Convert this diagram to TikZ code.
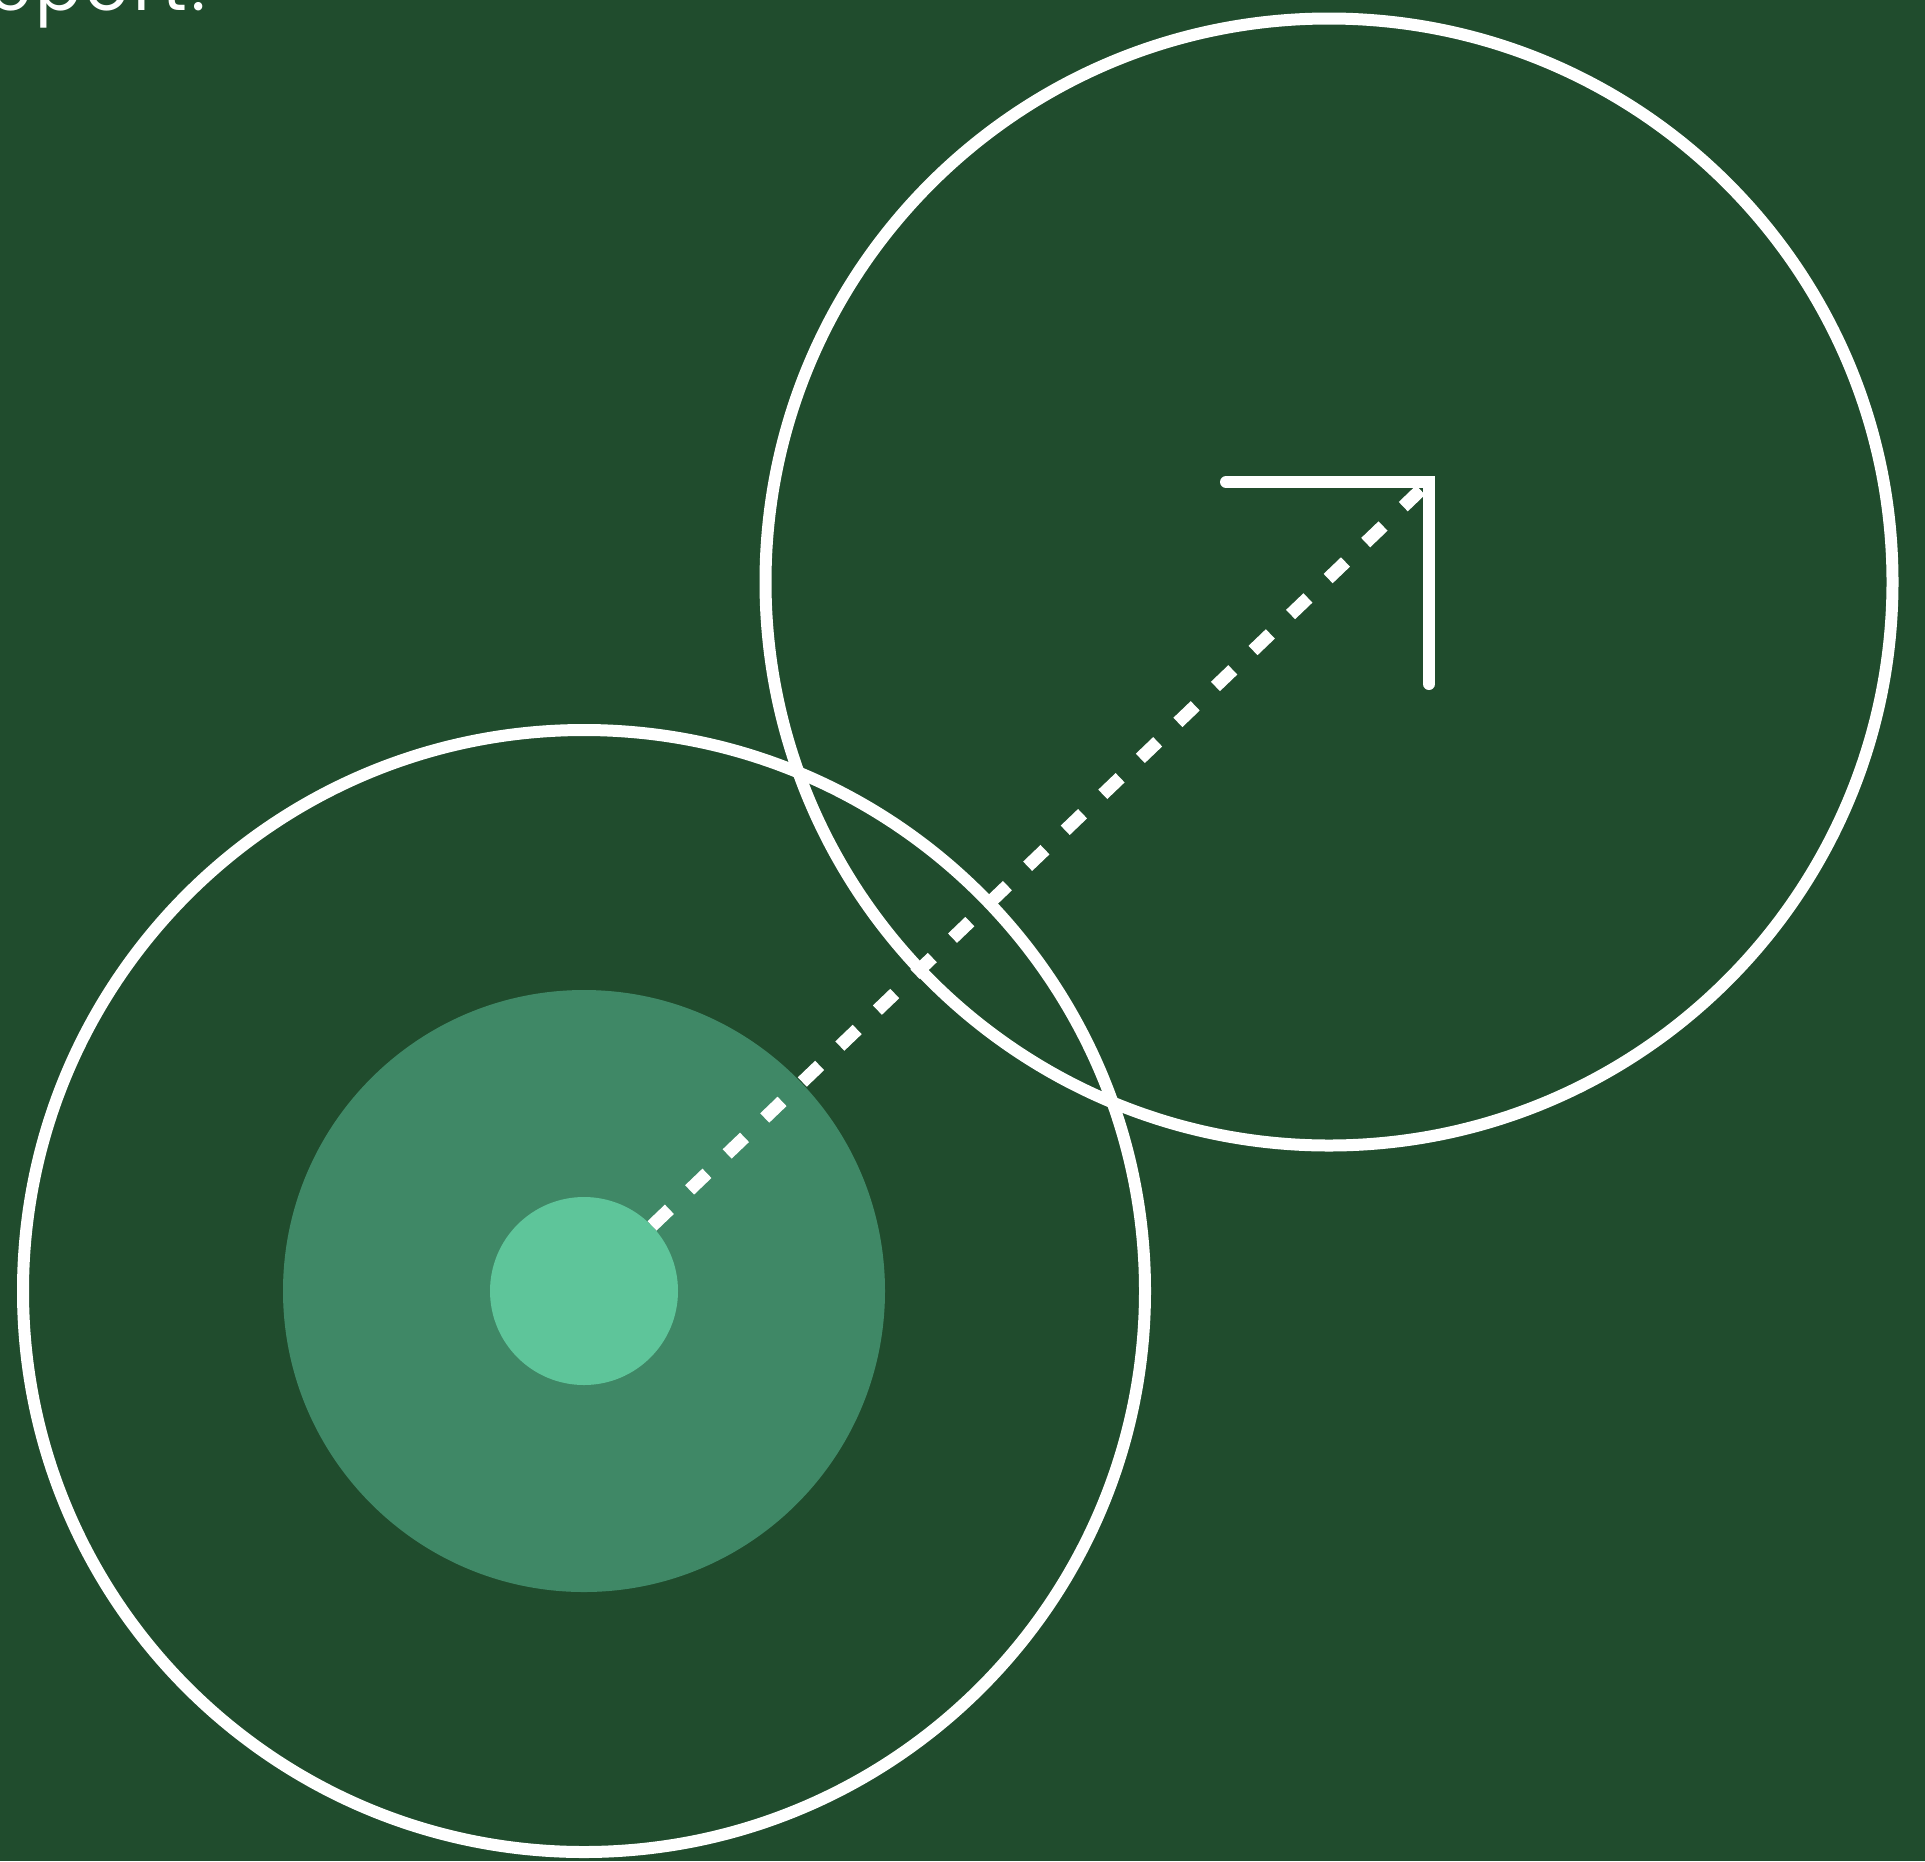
\documentclass[tikz,border=0pt]{standalone}
\usepackage{fontspec}
\setmainfont{Poppins}
\definecolor{bgdkgr}{rgb}{0.12549,0.29804,0.17647}
\definecolor{mdgrnq}{rgb}{0.24706,0.53333,0.40000}
\definecolor{ltgrnq}{rgb}{0.36863,0.77255,0.60392}

\begin{document}
\begin{tikzpicture}[x=1pt,y=-1pt,line cap=round,line join=round]
  \fill[color=bgdkgr] (0,0) rectangle (1925,1861);
  \useasboundingbox (0,0) rectangle (1925,1861);
  \node[anchor=base west,text=white,inner sep=0pt,font=\fontsize{68}{68}\selectfont\addfontfeature{LetterSpace=6}] (cap) at (-40,10) {report.};
  \node[circle,fill=mdgrnq,minimum size=602pt,inner sep=0pt] (halo) at (584,1291) {};
  \node[circle,fill=ltgrnq,minimum size=188pt,inner sep=0pt] (core) at (584,1291) {};
  \node[circle,draw=white,line width=12pt,minimum size=1122pt,inner sep=0pt] (lring) at (584,1291) {};
  \node[circle,draw=white,line width=12pt,minimum size=1127pt,inner sep=0pt] (rring) at (1329,582) {};
  \coordinate (tip) at (1429,482);
  \coordinate (tl) at (1226,482);
  \coordinate (tb) at (1429,684);
  \draw[line width=12pt,color=white,line join=miter] (tl)--(tip)--(tb);
  \draw[line width=13pt,color=white,line cap=butt,dash pattern=on 24pt off 28pt,shorten >=7pt] (core)--(tip);
\end{tikzpicture}
\end{document}
